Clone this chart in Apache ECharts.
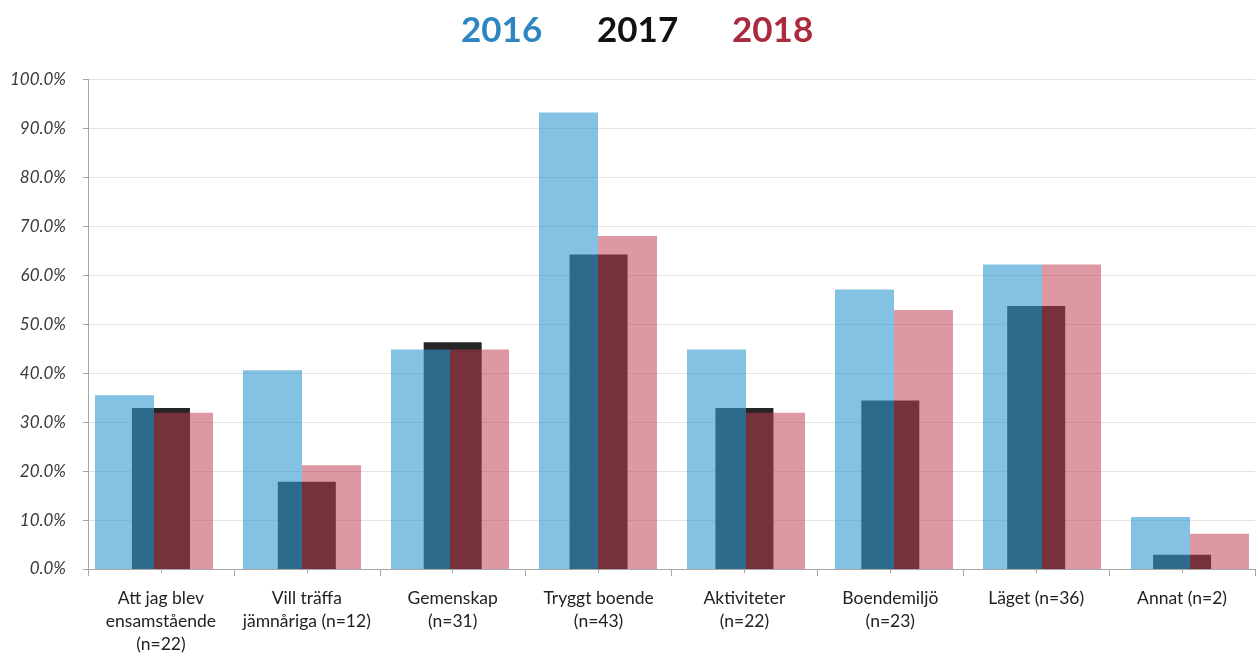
<!DOCTYPE html>
<html>
<head>
<meta charset="utf-8">
<script src="https://cdn.jsdelivr.net/npm/echarts@6/dist/echarts.min.js"></script>
<style>
html,body{margin:0;padding:0;background:#fff;overflow:hidden;}
#chart{width:1280px;height:657px;}
</style>
</head>
<body>
<div id="chart"></div>
<script>
const categories = [
  "Att jag blev\nensamstående\n(n=22)",
  "Vill träffa\njämnåriga (n=12)",
  "Gemenskap\n(n=31)",
  "Tryggt boende\n(n=43)",
  "Aktiviteter\n(n=22)",
  "Boendemiljö\n(n=23)",
  "Läget (n=36)",
  "Annat (n=2)"
];
const years = ["2016", "2017", "2018"];
const values2016 = [35.5, 40.6, 44.8, 93.2, 44.8, 57.1, 62.2, 10.6];
const values2017 = [32.9, 17.8, 46.3, 64.2, 32.9, 34.4, 53.7, 2.9];
const values2018 = [31.9, 21.2, 44.8, 68.0, 31.9, 52.9, 62.2, 7.2];
const yTicks = [0, 10, 20, 30, 40, 50, 60, 70, 80, 90, 100];

const chart = echarts.init(document.getElementById('chart'), null, {renderer: 'canvas'});
const FONT = 'Lato, "Open Sans", sans-serif';
const gridTop = 79.3, gridH = 489.7;

const option = {
  animation: false,
  backgroundColor: '#ffffff',
  grid: [
    {left: 88, top: gridTop, width: 1167, height: gridH},
    {left: 80, top: gridTop, width: 1184, height: gridH}
  ],
  graphic: [
    {type: 'text', left: 461, top: 13, style: {text: years[0], fill: '#2e86c1', font: 'bold 35px ' + FONT}},
    {type: 'text', left: 597, top: 13, style: {text: years[1], fill: '#111111', font: 'bold 35px ' + FONT}},
    {type: 'text', left: 732, top: 13, style: {text: years[2], fill: '#aa2a3e', font: 'bold 35px ' + FONT}}
  ],
  xAxis: [
    {
      type: 'category', gridIndex: 0, data: categories, boundaryGap: true,
      axisLine: {show: true, lineStyle: {color: '#a6a6a6', width: 1}},
      axisTick: {show: true, length: 7, lineStyle: {color: '#a6a6a6'}},
      axisLabel: {color: '#222222', fontSize: 17.5, lineHeight: 23, fontFamily: FONT, margin: 18, interval: 0}
    },
    {
      type: 'category', gridIndex: 0, data: categories, position: 'bottom',
      axisLine: {show: false},
      axisTick: {show: true, alignWithLabel: true, length: 4, lineStyle: {color: '#a6a6a6'}},
      axisLabel: {show: false}
    },
    {
      type: 'category', gridIndex: 1, data: categories, show: false
    }
  ],
  yAxis: [
    {
      type: 'value', gridIndex: 0, min: 0, max: 100, interval: 10,
      axisLine: {show: true, lineStyle: {color: '#a6a6a6'}},
      axisTick: {show: true, length: 5, lineStyle: {color: '#a6a6a6'}},
      axisLabel: {
        color: '#3a3a3a', fontSize: 17, fontStyle: 'italic', fontFamily: FONT, margin: 22,
        formatter: v => yTicks.includes(v) ? v.toFixed(1) + '%' : ''
      },
      splitLine: {show: true, lineStyle: {color: '#e4e4e4', width: 1}}
    },
    {
      type: 'value', gridIndex: 1, min: 0, max: 100, interval: 10, show: false,
      splitLine: {show: false}
    }
  ],
  series: [
    {
      name: years[1], type: 'bar', xAxisIndex: 0, yAxisIndex: 0, data: values2017,
      barWidth: 58, z: 1,
      itemStyle: {color: '#262626'}
    },
    {
      name: years[0], type: 'bar', xAxisIndex: 2, yAxisIndex: 1, data: values2016,
      barWidth: 59, barGap: '0%', z: 3,
      itemStyle: {color: 'rgba(48,154,206,0.6)'}
    },
    {
      name: years[2], type: 'bar', xAxisIndex: 2, yAxisIndex: 1, data: values2018,
      barWidth: 59, barGap: '0%', z: 3,
      itemStyle: {color: 'rgba(192,60,82,0.53)'}
    }
  ]
};
chart.setOption(option);
</script>
</body>
</html>
